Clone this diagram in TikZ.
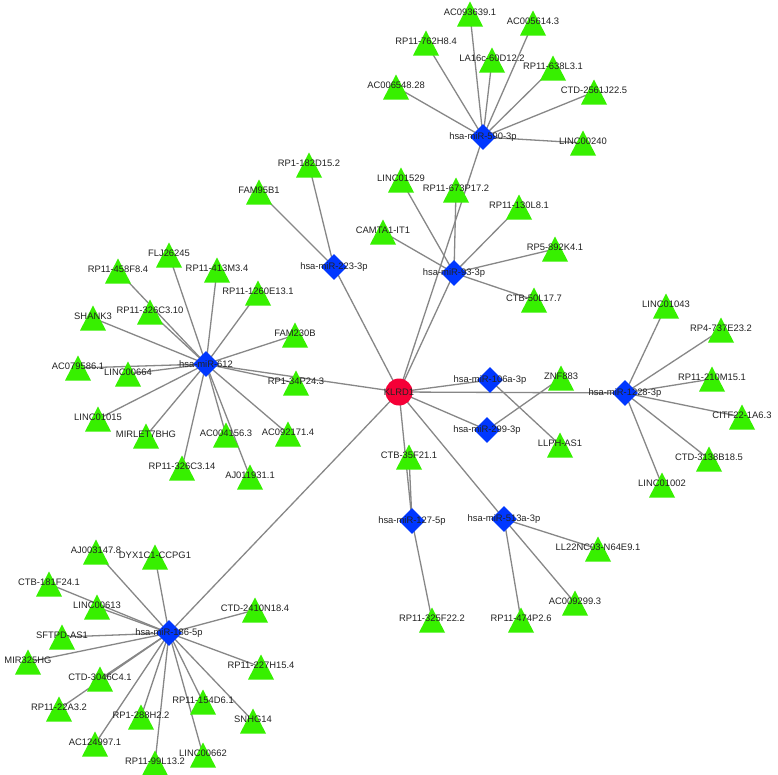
\documentclass[tikz,border=0pt]{standalone}
\usepackage{fontspec}
\setmainfont{Liberation Sans}
\usetikzlibrary{shapes.geometric,backgrounds}
\definecolor{trigreen}{RGB}{55,240,0}
\definecolor{hubblue}{RGB}{0,55,255}
\definecolor{corered}{RGB}{245,0,55}
\definecolor{edgegray}{RGB}{135,135,135}
\definecolor{labeltext}{RGB}{35,35,35}
\begin{document}
\begin{tikzpicture}[x=1pt,y=-1pt,
  lbl/.style={font=\fontsize{9.4}{11}\selectfont, text=labeltext, inner sep=0pt},
  lnc/.style={rectangle, minimum width=26pt, minimum height=25pt, inner sep=0pt,
    path picture={\fill[trigreen] (path picture bounding box.south west) -- (path picture bounding box.south east) -- (path picture bounding box.north) -- cycle;},
    label={[lbl,yshift=1.5pt]center:#1}},
  mirna/.style={diamond, fill=hubblue, minimum size=26pt, inner sep=0pt, label={[lbl]center:#1}},
  core/.style={circle, fill=corered, minimum size=27pt, inner sep=0pt, label={[lbl]center:#1}},
  edge/.style={draw=edgegray, line width=1.3pt}]
\useasboundingbox (0,0) rectangle (778,774);

% hubs
\node[core=KLRD1] (klrd1) at (399,392) {};
\node[mirna=hsa-miR-590-3p] (m590) at (483,137) {};
\node[mirna=hsa-miR-223-3p] (m223) at (334,267) {};
\node[mirna=hsa-miR-93-3p] (m93) at (454,273) {};
\node[mirna=hsa-miR-612] (m612) at (206,364) {};
\node[mirna=hsa-miR-106a-3p] (m106) at (490,380) {};
\node[mirna=hsa-miR-299-3p] (m299) at (487,430) {};
\node[mirna=hsa-miR-1228-3p] (m1228) at (625,393) {};
\node[mirna=hsa-miR-127-5p] (m127) at (412,521) {};
\node[mirna=hsa-miR-513a-3p] (m513) at (504,519) {};
\node[mirna=hsa-miR-186-5p] (m186) at (169,633) {};

% miR-590-3p targets
\node[lnc=AC093639.1] (a1) at (470,14) {};
\node[lnc=AC005614.3] (a2) at (533,23) {};
\node[lnc=RP11-762H8.4] (a3) at (426,43) {};
\node[lnc=LA16c-60D12.2] (a4) at (492,60) {};
\node[lnc=RP11-638L3.1] (a5) at (553,68) {};
\node[lnc=AC006548.28] (a6) at (396,87) {};
\node[lnc=CTD-2561J22.5] (a7) at (594,92) {};
\node[lnc=LINC00240] (a8) at (583,143) {};

% miR-223-3p targets
\node[lnc=RP1-182D15.2] (b1) at (309,165) {};
\node[lnc=FAM95B1] (b2) at (259,192) {};

% miR-93-3p targets
\node[lnc=LINC01529] (c1) at (401,180) {};
\node[lnc=RP11-673P17.2] (c2) at (456,190) {};
\node[lnc=RP11-130L8.1] (c3) at (519,207) {};
\node[lnc=CAMTA1-IT1] (c4) at (383,232) {};
\node[lnc=RP5-892K4.1] (c5) at (555,249) {};
\node[lnc=CTB-50L17.7] (c6) at (534,300) {};

% miR-612 targets
\node[lnc=FLJ26245] (d1) at (169,255) {};
\node[lnc=RP11-458F8.4] (d2) at (118,271) {};
\node[lnc=RP11-413M3.4] (d3) at (217,270) {};
\node[lnc=RP11-1260E13.1] (d4) at (258,293) {};
\node[lnc=RP11-326C3.10] (d5) at (150,312) {};
\node[lnc=SHANK3] (d6) at (93,318) {};
\node[lnc=FAM230B] (d7) at (295,335) {};
\node[lnc=AC079586.1] (d8) at (78,368) {};
\node[lnc=LINC00664] (d9) at (128,374) {};
\node[lnc=RP1-34P24.3] (d10) at (296,383) {};
\node[lnc=LINC01015] (d11) at (98,419) {};
\node[lnc=MIRLET7BHG] (d12) at (146,436) {};
\node[lnc=AC004156.3] (d13) at (226,435) {};
\node[lnc=AC092171.4] (d14) at (288,434) {};
\node[lnc=RP11-326C3.14] (d15) at (182,468) {};
\node[lnc=AJ011931.1] (d16) at (250,477) {};

% miR-106a-3p / miR-299-3p targets
\node[lnc=ZNF883] (e1) at (561,378) {};
\node[lnc=LLPH-AS1] (e2) at (560,445) {};

% miR-1228-3p targets
\node[lnc=LINC01043] (f1) at (666,306) {};
\node[lnc=RP4-737E23.2] (f2) at (721,330) {};
\node[lnc=RP11-210M15.1] (f3) at (712,379) {};
\node[lnc=CITF22-1A6.3] (f4) at (742,417) {};
\node[lnc=CTD-3138B18.5] (f5) at (709,459) {};
\node[lnc=LINC01002] (f6) at (662,485) {};

% miR-127-5p targets
\node[lnc=CTB-35F21.1] (g1) at (409,457) {};
\node[lnc=RP11-325F22.2] (g2) at (432,620) {};

% miR-513a-3p targets
\node[lnc=LL22NC03-N64E9.1] (h1) at (598,549) {};
\node[lnc=AC009299.3] (h2) at (575,603) {};
\node[lnc=RP11-474P2.6] (h3) at (521,620) {};

% miR-186-5p targets
\node[lnc=AJ003147.8] (k1) at (96,552) {};
\node[lnc=DYX1C1-CCPG1] (k2) at (155,557) {};
\node[lnc=CTB-181F24.1] (k3) at (49,584) {};
\node[lnc=LINC00613] (k4) at (97,607) {};
\node[lnc=CTD-2410N18.4] (k5) at (255,610) {};
\node[lnc=SFTPD-AS1] (k6) at (62,637) {};
\node[lnc=MIR325HG] (k7) at (28,662) {};
\node[lnc=RP11-227H15.4] (k8) at (261,667) {};
\node[lnc=CTD-3046C4.1] (k9) at (100,679) {};
\node[lnc=RP11-22A3.2] (k10) at (59,709) {};
\node[lnc=RP11-154D6.1] (k11) at (203,702) {};
\node[lnc=RP1-288H2.2] (k12) at (141,717) {};
\node[lnc=SNHG14] (k13) at (253,721) {};
\node[lnc=AC124997.1] (k14) at (95,744) {};
\node[lnc=LINC00662] (k15) at (203,755) {};
\node[lnc=RP11-99L13.2] (k16) at (155,763) {};

\begin{pgfonlayer}{background}
  \fill[white] (0,0) rectangle (778,774);
  \foreach \h in {m590,m223,m93,m612,m106,m299,m1228,m127,m513,m186}
    \draw[edge] (klrd1.center) -- (\h.center);
  \foreach \t in {a1,a2,a3,a4,a5,a6,a7,a8}
    \draw[edge] (m590.center) -- (\t.center);
  \foreach \t in {b1,b2}
    \draw[edge] (m223.center) -- (\t.center);
  \foreach \t in {c1,c2,c3,c4,c5,c6}
    \draw[edge] (m93.center) -- (\t.center);
  \foreach \t in {d1,d2,d3,d4,d5,d6,d7,d8,d9,d10,d11,d12,d13,d14,d15,d16}
    \draw[edge] (m612.center) -- (\t.center);
  \draw[edge] (m106.center) -- (e2.center);
  \draw[edge] (m299.center) -- (e1.center);
  \foreach \t in {f1,f2,f3,f4,f5,f6}
    \draw[edge] (m1228.center) -- (\t.center);
  \foreach \t in {g1,g2}
    \draw[edge] (m127.center) -- (\t.center);
  \foreach \t in {h1,h2,h3}
    \draw[edge] (m513.center) -- (\t.center);
  \foreach \t in {k1,k2,k3,k4,k5,k6,k7,k8,k9,k10,k11,k12,k13,k14,k15,k16}
    \draw[edge] (m186.center) -- (\t.center);
\end{pgfonlayer}
\end{tikzpicture}
\end{document}
